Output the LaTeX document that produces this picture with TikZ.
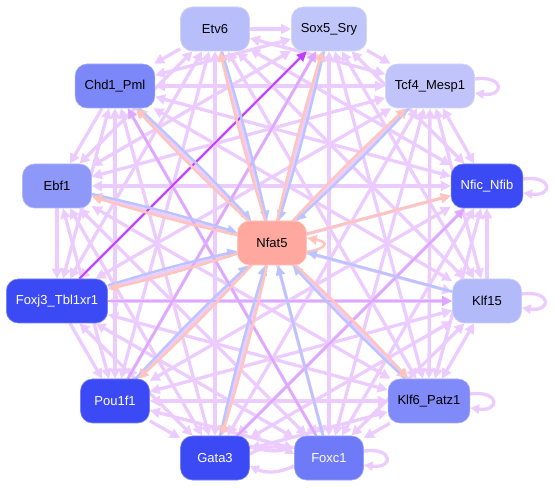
\documentclass[tikz,border=0pt]{standalone}
\usepackage{fontspec}
\setmainfont{Liberation Sans}
\usetikzlibrary{arrows.meta}
\pgfdeclarelayer{bg}
\pgfsetlayers{bg,main}
\definecolor{eP}{RGB}{236,204,255}
\definecolor{eD}{RGB}{222,168,255}
\definecolor{eV}{RGB}{192,64,255}
\definecolor{eB}{RGB}{188,196,255}
\definecolor{eR}{RGB}{255,196,188}
\definecolor{cEtv}{RGB}{184,190,250}
\definecolor{cSox}{RGB}{192,198,250}
\definecolor{cChd}{RGB}{124,136,248}
\definecolor{cTcf}{RGB}{192,196,250}
\definecolor{cEbf}{RGB}{142,152,248}
\definecolor{cDark}{RGB}{60,74,245}
\definecolor{cNfat}{RGB}{255,168,160}
\definecolor{cKlfa}{RGB}{178,186,250}
\definecolor{cKlfb}{RGB}{128,138,248}
\definecolor{cFox}{RGB}{110,122,248}
\begin{document}
\begin{tikzpicture}[x=1pt,y=-1pt,
  gnode/.style={rounded corners=12pt, minimum width=69pt, minimum height=44pt,
    inner xsep=9.5pt, font=\fontsize{13}{15}\selectfont, draw=#1!70!white, line width=0.6pt, fill=#1},
  pe/.style={eP, line width=3.3pt, {Triangle[length=10pt,width=10pt]}-{Triangle[length=10pt,width=10pt]}},
  po/.style={eP, line width=3.3pt, -{Triangle[length=10pt,width=10pt]}},
  pd/.style={eD, line width=2.5pt, -{Triangle[length=10pt,width=9pt]}},
  pv/.style={eV, line width=2pt, -{Triangle[length=10pt,width=9pt]}},
  be/.style={eB, line width=2.5pt, -{Triangle[length=10pt,width=9pt]}},
  re/.style={eR, line width=2.5pt, -{Triangle[length=10pt,width=9pt]}},
  sl/.style={eP, line width=3.3pt, -{Triangle[length=9pt,width=9pt]}}]
\useasboundingbox (0,0) rectangle (555,489);
\node[gnode=cEtv] (e) at (215,29) {Etv6};
\node[gnode=cSox] (s) at (329,29) {Sox5\_Sry};
\node[gnode=cChd] (h) at (115,86) {Chd1\_Pml};
\node[gnode=cTcf] (t) at (430,86) {Tcf4\_Mesp1};
\node[gnode=cEbf] (b) at (57,186) {Ebf1};
\node[gnode=cDark, text=white] (n) at (487,186) {Nfic\_Nfib};
\node[gnode=cNfat] (x) at (272,243) {Nfat5};
\node[gnode=cDark, text=white] (f) at (57,301) {Foxj3\_Tbl1xr1};
\node[gnode=cKlfa] (k) at (487,301) {Klf15};
\node[gnode=cDark, text=white] (u) at (115,401) {Pou1f1};
\node[gnode=cKlfb] (p) at (429,401) {Klf6\_Patz1};
\node[gnode=cDark, text=white] (g) at (215,458) {Gata3};
\node[gnode=cFox, text=white] (c) at (329,458) {Foxc1};
\begin{pgfonlayer}{bg}
\foreach \a/\i in {e/1,s/2,t/3,n/4,k/5,p/6,c/7,g/8,u/9,f/10,b/11,h/12}{
  \foreach \bb/\j in {e/1,s/2,t/3,n/4,k/5,p/6,c/7,g/8,u/9,f/10,b/11,h/12}{
    \pgfmathtruncatemacro\dd{\j-\i}
    \ifnum\i<\j \ifnum\dd>1 \ifnum\dd<11 \draw[pe] (\a) -- (\bb); \fi\fi\fi
  }
}
% neighbours on the ring
\draw[po] (e) -- (s);
\draw[po] (s) -- (t);
\draw[pe] (t) -- (n);
\draw[po] (k) -- (n);
\draw[pe] (k) -- (p);
\draw[po] (p) -- (c);
\draw[po] (u) -- (g);
\draw[po] (f) -- (u);
\draw[po] (b) -- (f);
\draw[po] (h) -- (b);
\draw[po] (e) -- (h);
\draw[sl] ([yshift=4pt]g.east) to[bend left=30] ([yshift=4pt]c.west);
\draw[sl] ([yshift=-8pt]c.west) to[bend left=25] ([yshift=-8pt]g.east);
\draw[sl] ([yshift=12pt]g.east) to[bend right=20] ([yshift=12pt]c.west);
\draw[pd] (f) -- (k);
\draw[pd] (u) -- (s);
\draw[pd] (g) -- (n);
\draw[pd] (c) -- (h);
\draw[pv] (f) -- (s);
% self loops
\foreach \m in {t,n,k,p,c}{
  \draw[sl] ([yshift=7pt]\m.east) .. controls +(30,-4) and +(30,4) .. ([yshift=-7pt]\m.east);
}
\draw[re] ([yshift=-9pt]x.east) .. controls +(22,-4) and +(22,4) .. ([yshift=5pt]x.east);
% edges with Nfat5
\foreach \m in {h,e,s,t,b,f,u,g,p}{
  \draw[be] (\m) to[bend left=2] (x);
  \draw[re] (x) to[bend left=2] (\m);
}
\draw[be] (k) -- (x);
\draw[be] (c) -- (x);
\draw[re] (x) -- (n);
\end{pgfonlayer}
\end{tikzpicture}
\end{document}
